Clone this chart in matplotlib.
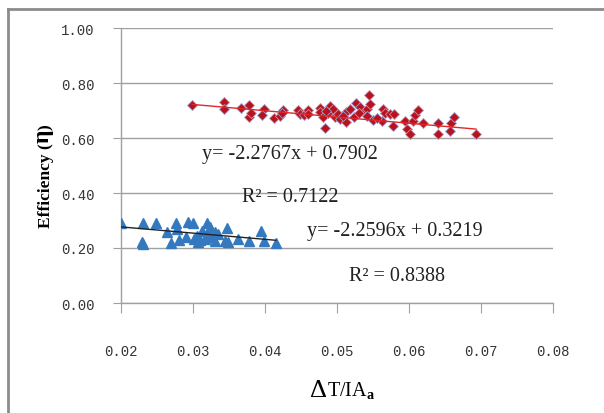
import numpy as np
import matplotlib
matplotlib.use("Agg")
import matplotlib.pyplot as plt
from matplotlib.lines import Line2D
from matplotlib.offsetbox import TextArea, HPacker, AnnotationBbox

# data
red_x = [0.0299, 0.0343, 0.0343, 0.0367, 0.0378, 0.0378, 0.0381, 0.0398, 0.0396, 0.0412,
         0.0421, 0.0425, 0.0423, 0.0446, 0.0448, 0.0454, 0.0460, 0.0460, 0.0476, 0.0477,
         0.0483, 0.0480, 0.0490, 0.0493, 0.0488, 0.0495, 0.0497, 0.0502, 0.0504, 0.0513,
         0.0513, 0.0518, 0.0527, 0.0523, 0.0532, 0.0537, 0.0541, 0.0545, 0.0541, 0.0550,
         0.0546, 0.0564, 0.0566, 0.0563, 0.0574, 0.0579, 0.0578, 0.0594, 0.0597, 0.0601,
         0.0606, 0.0608, 0.0613, 0.0620, 0.0640, 0.0640, 0.0658, 0.0657, 0.0662, 0.0693,
         0.0485, 0.0508, 0.0530, 0.0556]
red_y = [0.721, 0.730, 0.705, 0.708, 0.721, 0.675, 0.690, 0.705, 0.685, 0.673,
         0.681, 0.702, 0.690, 0.702, 0.687, 0.684, 0.702, 0.687, 0.708, 0.693,
         0.635, 0.675, 0.717, 0.693, 0.690, 0.705, 0.678, 0.687, 0.669, 0.659,
         0.693, 0.705, 0.726, 0.675, 0.712, 0.693, 0.705, 0.756, 0.679, 0.667,
         0.722, 0.705, 0.690, 0.663, 0.687, 0.687, 0.645, 0.661, 0.633, 0.615,
         0.661, 0.685, 0.703, 0.653, 0.653, 0.615, 0.653, 0.627, 0.678, 0.615,
         0.700, 0.680, 0.690, 0.672]

blue_x = [0.0200, 0.0230, 0.0229, 0.0231, 0.0249, 0.0264, 0.0276, 0.0278, 0.0269, 0.0280,
          0.0293, 0.0300, 0.0290, 0.0302, 0.0306, 0.0313, 0.0320, 0.0323, 0.0317, 0.0326,
          0.0331, 0.0330, 0.0335, 0.0347, 0.0344, 0.0349, 0.0363, 0.0378, 0.0395, 0.0398,
          0.0415, 0.0307, 0.0321, 0.0310]
blue_y = [0.291, 0.291, 0.221, 0.216, 0.291, 0.257, 0.291, 0.268, 0.218, 0.230,
          0.296, 0.291, 0.239, 0.233, 0.245, 0.263, 0.291, 0.275, 0.233, 0.239,
          0.259, 0.224, 0.251, 0.272, 0.227, 0.221, 0.233, 0.227, 0.263, 0.227,
          0.218, 0.221, 0.250, 0.228]

# trendlines as printed on the chart
red_fit = (-2.2767, 0.7902, "0.7122")
blue_fit = (-2.2596, 0.3219, "0.8388")

x_ticks = [0.02, 0.03, 0.04, 0.05, 0.06, 0.07, 0.08]
y_ticks = [0.0, 0.2, 0.4, 0.6, 0.8, 1.0]

plt.rcParams['mathtext.fontset'] = 'custom'
plt.rcParams['mathtext.rm'] = 'Liberation Serif'
plt.rcParams['mathtext.bf'] = 'Liberation Serif:bold'

grey = '#a0a0a0'
serif = 'Liberation Serif'

fig = plt.figure(figsize=(6.04, 4.14), dpi=100)
ax = fig.add_axes([121/604, 1 - 304/414, 432/604, 275/414])

ax.plot(red_x, red_y, 'D', ms=5.2, color='#b8121c', mec='#a89cc8', mew=0.6, zorder=3)
ax.plot(blue_x, blue_y, '^', ms=7.5, color='#3479bf', mec='#3479bf', zorder=3)

xr = np.array([min(red_x), max(red_x)])
ax.plot(xr, red_fit[0] * xr + red_fit[1], color='#e02828', lw=1, zorder=4)
xb = np.array([min(blue_x), max(blue_x)])
ax.plot(xb, blue_fit[0] * xb + blue_fit[1], color='#222222', lw=1, zorder=4)

eq_kw = dict(fontsize=14.5, family=serif, va='center', color='#222222')
ax.text(0.0313, 0.542, f"y= {red_fit[0]}x + {red_fit[1]}", **eq_kw)
ax.text(0.0368, 0.386, f"R² = {red_fit[2]}", **eq_kw)
ax.text(0.0458, 0.262, f"y= {blue_fit[0]}x + {blue_fit[1]}", **eq_kw)
ax.text(0.0517, 0.100, f"R² = {blue_fit[2]}", **eq_kw)

ax.set_xlim(0.02, 0.08)
ax.set_ylim(0, 1)
ax.set_xticks(x_ticks)
ax.set_yticks(y_ticks)
ax.set_xticklabels([f"{t:.2f}" for t in x_ticks])
ax.set_yticklabels([f"{t:.2f}" for t in y_ticks])

for s in ['top', 'right']:
    ax.spines[s].set_visible(False)
for s in ['left', 'bottom']:
    ax.spines[s].set_color(grey)
    ax.spines[s].set_linewidth(1)
ax.yaxis.grid(True, color=grey, lw=1)
ax.set_axisbelow(True)
ax.tick_params(axis='y', length=5.8, color=grey, pad=13.5, labelsize=10, labelcolor='#333333')
ax.tick_params(axis='x', length=7.2, color=grey, pad=22, labelsize=10, labelcolor='#333333')
for lab in ax.get_xticklabels() + ax.get_yticklabels():
    lab.set_fontfamily('Liberation Mono')

# y label: "Efficiency (" + bigger bold eta + ")"
yl1 = fig.text(54/604, 1 - 228/414, "Efficiency (", rotation=90, ha='right', va='bottom',
               fontsize=12.5, family=serif, fontweight='bold')
yl2 = fig.text(54/604, 0, "η", rotation=90, ha='right', va='bottom', fontsize=17,
               family=serif, fontweight='bold')
fig.canvas.draw()
bb = yl1.get_window_extent()
yl2.set_position((54/604, bb.y1 / fig.bbox.height))
fig.canvas.draw()
bb2 = yl2.get_window_extent()
fig.text(54/604, bb2.y1 / fig.bbox.height, ")", rotation=90, ha='right', va='bottom',
         fontsize=12.5, family=serif, fontweight='bold')

# x label: big delta, smaller T/IA, bold subscript a
xlab = HPacker(children=[TextArea("Δ", textprops=dict(size=19, family=serif)),
                         TextArea(r"T/IA$_{\mathbf{a}}$", textprops=dict(size=14.5, family=serif))],
               align='baseline', pad=0, sep=0)
fig.add_artist(AnnotationBbox(xlab, (343/604, 1 - 391/414), xycoords='figure fraction',
                              frameon=False, box_alignment=(0.5, 0.5)))

# outer chart frame (only left and top edges are inside the picture)
fig.add_artist(Line2D([8/604, 8/604], [0, 1 - 10/414], color='#8c8c8c', lw=2))
fig.add_artist(Line2D([8/604, 1], [1 - 10/414, 1 - 10/414], color='#8c8c8c', lw=2))

fig.savefig("out.png", dpi=100)
